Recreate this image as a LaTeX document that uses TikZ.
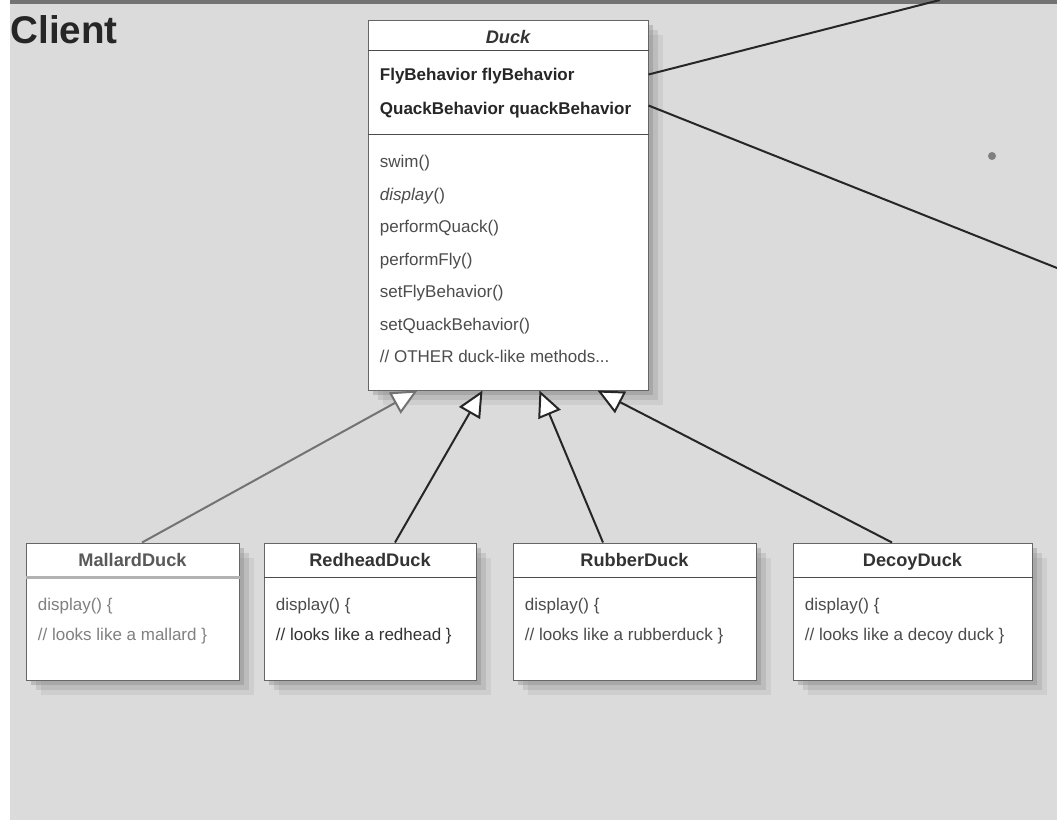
\documentclass[tikz,border=0pt]{standalone}
\usepackage{fontspec}
\setmainfont{Liberation Sans}
\usepackage{tikz}
\usetikzlibrary{arrows.meta,shadows}
\tikzstyle{classbox} = [rectangle, draw=black!60, fill=white, line width=0.5pt, inner sep=0pt,
  drop shadow={shadow xshift=2.5pt, shadow yshift=-2.5pt, opacity=0.35},
  drop shadow={shadow xshift=5pt, shadow yshift=-5pt, opacity=0.22},
  drop shadow={shadow xshift=7.5pt, shadow yshift=-7.5pt, opacity=0.14}]
\tikzstyle{classname} = [inner sep=0pt, text height=8pt, text depth=0.6pt, font=\fontsize{9.1}{11}\selectfont\bfseries, text=black!80]
\tikzstyle{member} = [anchor=west, inner sep=0pt, text height=8pt, text depth=0.6pt, font=\fontsize{8.5}{10}\selectfont, text=black!70]
\tikzstyle{attr} = [member, font=\fontsize{8.5}{10}\selectfont\bfseries, text=black!85]
\tikzstyle{sep} = [line width=0.6pt, black!70]
\tikzstyle{inherit} = [line width=1pt, black!85, -{Triangle[length=13pt, width=12pt, fill=white]}]
\tikzstyle{assoc} = [line width=1pt, black!85]
\begin{document}
\begin{tikzpicture}[x=0.5pt, y=-0.5pt]
    \useasboundingbox (0,0) rectangle (1057,825);
    \fill [gray!28] (10,0) rectangle (1057,820);
    \draw [line width=2pt, black!55] (10,2) -- (1057,2);
    \fill [black!50] (992,156) circle (2pt);
    \node (client) [anchor=base west, inner sep=0pt, font=\fontsize{19.3}{22}\selectfont\bfseries, text=black!85] at (10,43) {Client};

    % superclass
    \node (duck) [classbox, minimum width=140pt, minimum height=185pt] at (508,205) {};
    \draw [sep] ([yshift=-15.5pt]duck.north west) -- ([yshift=-15.5pt]duck.north east);
    \draw [sep] ([yshift=-57.5pt]duck.north west) -- ([yshift=-57.5pt]duck.north east);
    \node (duckname) [classname, font=\fontsize{9.1}{11}\selectfont\bfseries\itshape] at ([yshift=-8.5pt]duck.north) {Duck};
    \node (fly) [attr] at ([xshift=6pt, yshift=-27pt]duck.north west) {FlyBehavior flyBehavior};
    \node (quack) [attr] at ([xshift=6pt, yshift=-44pt]duck.north west) {QuackBehavior quackBehavior};
    \node (swim) [member] at ([xshift=6pt, yshift=-70.5pt]duck.north west) {swim()};
    \node (display) [member] at ([xshift=6pt, yshift=-86.75pt]duck.north west) {\textit{display}()};
    \node (pquack) [member] at ([xshift=6pt, yshift=-103pt]duck.north west) {performQuack()};
    \node (pfly) [member] at ([xshift=6pt, yshift=-119.25pt]duck.north west) {performFly()};
    \node (setfly) [member] at ([xshift=6pt, yshift=-135.5pt]duck.north west) {setFlyBehavior()};
    \node (setquack) [member] at ([xshift=6pt, yshift=-151.75pt]duck.north west) {setQuackBehavior()};
    \node (other) [member] at ([xshift=6pt, yshift=-168pt]duck.north west) {// OTHER duck-like methods...};

    % behaviour links leaving the page
    \coordinate (flyexit) at (940,0);
    \coordinate (quackexit) at (1057,268);
    \draw [assoc] ([yshift=-27.5pt]duck.north east) -- (flyexit);
    \draw [assoc] ([yshift=-43pt]duck.north east) -- (quackexit);

    % subclasses
    \node (mallard) [classbox, minimum width=106.5pt, minimum height=68.5pt] at (132.5,611.5) {};
    \draw [line width=1.5pt, black!30] ([yshift=-17.5pt]mallard.north west) -- ([yshift=-17.5pt]mallard.north east);
    \node (mallardname) [classname, text=black!65] at ([yshift=-8.5pt]mallard.north) {MallardDuck};
    \node (mallard1) [member, text=black!50] at ([xshift=6pt, yshift=-30.5pt]mallard.north west) {display() \{};
    \node (mallard2) [member, text=black!50] at ([xshift=6pt, yshift=-45.5pt]mallard.north west) {// looks like a mallard \}};

    \node (redhead) [classbox, minimum width=106pt, minimum height=68.5pt] at (370,611.5) {};
    \draw [sep] ([yshift=-17.5pt]redhead.north west) -- ([yshift=-17.5pt]redhead.north east);
    \node (redheadname) [classname] at ([yshift=-8.5pt]redhead.north) {RedheadDuck};
    \node (redhead1) [member] at ([xshift=6pt, yshift=-30.5pt]redhead.north west) {display() \{};
    \node (redhead2) [member, text=black!80] at ([xshift=6pt, yshift=-45.5pt]redhead.north west) {// looks like a redhead \}};

    \node (rubber) [classbox, minimum width=121.5pt, minimum height=68.5pt] at (634.5,611.5) {};
    \draw [sep] ([yshift=-17.5pt]rubber.north west) -- ([yshift=-17.5pt]rubber.north east);
    \node (rubbername) [classname] at ([yshift=-8.5pt]rubber.north) {RubberDuck};
    \node (rubber1) [member] at ([xshift=6pt, yshift=-30.5pt]rubber.north west) {display() \{};
    \node (rubber2) [member] at ([xshift=6pt, yshift=-45.5pt]rubber.north west) {// looks like a rubberduck \}};

    \node (decoy) [classbox, minimum width=119.5pt, minimum height=68.5pt] at (912.5,611.5) {};
    \draw [sep] ([yshift=-17.5pt]decoy.north west) -- ([yshift=-17.5pt]decoy.north east);
    \node (decoyname) [classname] at ([yshift=-8.5pt]decoy.north) {DecoyDuck};
    \node (decoy1) [member] at ([xshift=6pt, yshift=-30.5pt]decoy.north west) {display() \{};
    \node (decoy2) [member] at ([xshift=6pt, yshift=-45.5pt]decoy.north west) {// looks like a decoy duck \}};

    % inheritance
    \draw [inherit, black!55] ([xshift=4.75pt]mallard.north) -- ([xshift=25pt]duck.south west);
    \draw [inherit] ([xshift=12.5pt]redhead.north) -- ([xshift=57.5pt]duck.south west);
    \draw [inherit] ([xshift=-15.75pt]rubber.north) -- ([xshift=86pt]duck.south west);
    \draw [inherit] ([xshift=-10.25pt]decoy.north) -- ([xshift=115pt]duck.south west);
\end{tikzpicture}
\end{document}
